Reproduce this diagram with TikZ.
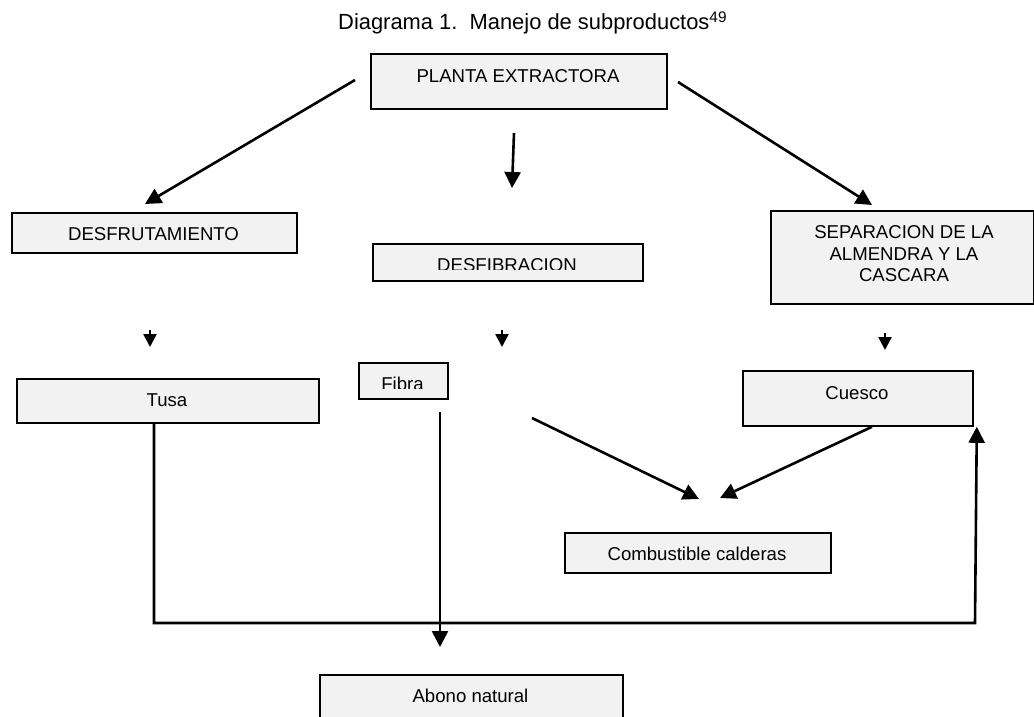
\documentclass[tikz,border=0pt]{standalone}
\usepackage{fontspec}
\setmainfont{Liberation Sans}
\usetikzlibrary{arrows.meta,calc}
\definecolor{boxfill}{RGB}{242,242,242}
\begin{document}
\begin{tikzpicture}[x=1pt,y=-1pt,
  box/.style={draw, line width=1.8pt, fill=boxfill, inner sep=0pt, anchor=north west},
  lbl/.style={anchor=base, inner sep=0pt, font=\fontsize{18.6}{21.5}\selectfont},
  arr/.style={line width=2.6pt, -{Triangle[length=16pt,width=16pt]}},
  sarr/.style={line width=2.6pt, -{Triangle[length=13pt,width=13pt]}},
  ln/.style={line width=2.6pt}]
\useasboundingbox (0,0) rectangle (1034,717);
\clip (0,0) rectangle (1034,717);
\fill[white] (0,0) rectangle (1034,717);

% title
\node[anchor=base west, inner sep=0pt, font=\fontsize{21.9}{24}\selectfont] (title) at (338,30)
  {Diagrama 1.\ \ Manejo de subproductos\textsuperscript{49}};

% boxes
\node[box, minimum width=296pt, minimum height=55pt] (planta) at (370,53) {};
\node[box, minimum width=285pt, minimum height=40pt] (desfrut) at (11,212) {};
\node[box, minimum width=270pt, minimum height=37pt] (desfib) at (372,243) {};
\node[box, minimum width=263pt, minimum height=93pt] (separ) at (770,210) {};
\node[box, minimum width=302pt, minimum height=44pt] (tusa) at (16,378) {};
\node[box, minimum width=89pt, minimum height=36pt] (fibra) at (358,362) {};
\node[box, minimum width=230pt, minimum height=55pt] (cuesco) at (742,370) {};
\node[box, minimum width=266pt, minimum height=40pt] (comb) at (564,532) {};
\node[box, minimum width=303pt, minimum height=60pt] (abono) at (319,674) {};

% labels
\node[lbl] (plantaT) at (518,83) {PLANTA EXTRACTORA};
\node[lbl] (desfrutT) at (153.5,240) {DESFRUTAMIENTO};
\begin{scope}
  \clip (372,243) rectangle (642,269);
  \node[lbl] (desfibT) at (507,271) {DESFIBRACION};
\end{scope}
\node[lbl] (separT1) at (904,238) {SEPARACION DE LA};
\node[lbl] (separT2) at (904,260) {ALMENDRA Y LA};
\node[lbl] (separT3) at (904,281) {CASCARA};
\node[lbl] (tusaT) at (167,406) {Tusa};
\begin{scope}
  \clip (358,362) rectangle (447,388);
  \node[lbl] (fibraT) at (402.5,390) {Fibra};
\end{scope}
\node[lbl] (cuescoT) at (857,399) {Cuesco};
\node[lbl] (combT) at (697,560) {Combustible calderas};
\node[lbl] (abonoT) at (470.5,702) {Abono natural};

% connector end points
\coordinate (a1s) at (355,80);  \coordinate (a1e) at (145,204);
\coordinate (a2s) at (514,133); \coordinate (a2e) at (512,188);
\coordinate (a3s) at (678,82);  \coordinate (a3e) at (872,205);
\coordinate (s1s) at (150,330); \coordinate (s1e) at (150,347);
\coordinate (s2s) at (502,330); \coordinate (s2e) at (502,347);
\coordinate (s3s) at (885,333); \coordinate (s3e) at (885,350);
\coordinate (f1s) at (532,418); \coordinate (f1e) at (699,499);
\coordinate (c1s) at ($(cuesco.south west)+(130,0)$); \coordinate (c1e) at (720,498);
\coordinate (f2s) at (440,412); \coordinate (f2e) at (440,647);
\coordinate (t1) at ($(tusa.south west)+(138,0)$);
\coordinate (t2) at (154,623);
\coordinate (t3) at (975,623);
\coordinate (t4) at ($(cuesco.south east)+(3,0)$);

% connectors
\draw[arr] (a1s) -- (a1e);
\draw[arr] (a2s) -- (a2e);
\draw[arr] (a3s) -- (a3e);
\draw[sarr] (s1s) -- (s1e);
\draw[sarr] (s2s) -- (s2e);
\draw[sarr] (s3s) -- (s3e);
\draw[arr] (f1s) -- (f1e);
\draw[arr] (c1s) -- (c1e);
\draw[arr] (f2s) -- (f2e);
\draw[arr] (t1) -- (t2) -- (t3) -- (t4);
\end{tikzpicture}
\end{document}
